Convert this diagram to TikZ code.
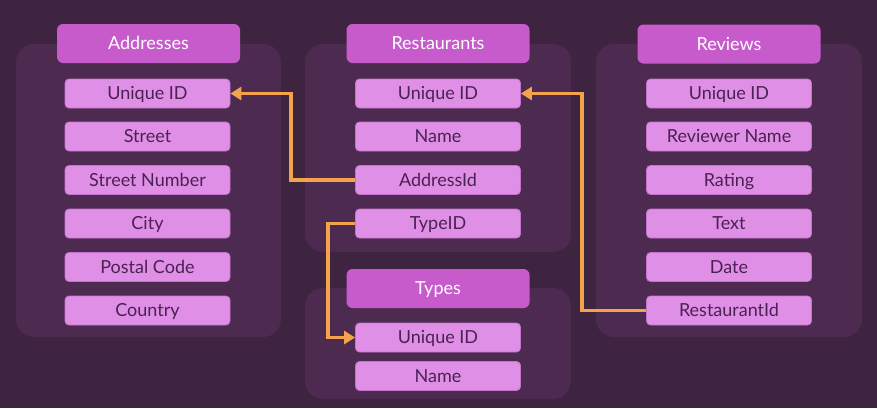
\documentclass[tikz,border=0pt]{standalone}
\usepackage{fontspec}
\setmainfont{Lato}
\usetikzlibrary{arrows.meta}
\definecolor{bgc}{HTML}{3E2440}
\definecolor{panelc}{HTML}{4D2A50}
\definecolor{headc}{HTML}{C75BCB}
\definecolor{fieldc}{HTML}{E08FE6}
\definecolor{fieldb}{HTML}{C672CC}
\definecolor{fieldt}{HTML}{4A2252}
\definecolor{linkc}{HTML}{F5A24C}
\tikzset{
  panel/.style={fill=panelc, rounded corners=18pt},
  header/.style={fill=headc, rounded corners=6pt, minimum width=183pt, minimum height=39pt, inner sep=0pt, text=white, text height=12.8pt, text depth=0pt, font=\fontsize{18}{20}\selectfont},
  field/.style={fill=fieldc, draw=fieldb, line width=0.8pt, rounded corners=4pt, minimum width=165pt, minimum height=29pt, inner sep=0pt, text=fieldt, text height=12.8pt, text depth=0pt, font=\fontsize{18}{20}\selectfont},
  link/.style={draw=linkc, line width=3.4pt, -{Triangle[length=11pt,width=13pt]}}
}
\begin{document}
\begin{tikzpicture}[x=1pt,y=-1pt]
\fill[bgc] (0,0) rectangle (877,408);
\useasboundingbox (0,0) rectangle (877,408);
% panels
\fill[panel] (16,44) rectangle (281,337);
\fill[panel] (305,44) rectangle (571,252);
\fill[panel] (305,288) rectangle (571,399);
\fill[panel] (596,44) rectangle (862,337);
% Addresses
\node[header] (ah) at (148.5,43.5) {Addresses};
\node[field] (auid) at (147.5,93.5) {Unique ID};
\node[field] (astreet) at (147.5,136.5) {Street};
\node[field] (anum) at (147.5,180) {Street Number};
\node[field] (acity) at (147.5,223.5) {City};
\node[field] (apost) at (147.5,267) {Postal Code};
\node[field] (acountry) at (147.5,310.5) {Country};
% Restaurants
\node[header] (rh) at (438,43.5) {Restaurants};
\node[field] (resuid) at (438,93.5) {Unique ID};
\node[field] (resname) at (438,136.5) {Name};
\node[field] (resaddr) at (438,180) {AddressId};
\node[field] (restype) at (438,223.5) {TypeID};
% Types
\node[header] (th) at (438,288.5) {Types};
\node[field] (tuid) at (438,337.5) {Unique ID};
\node[field] (tname) at (438,376) {Name};
% Reviews
\node[header] (vh) at (729,44) {Reviews};
\node[field] (vuid) at (729,93.5) {Unique ID};
\node[field] (vname) at (729,136.5) {Reviewer Name};
\node[field] (vrating) at (729,180) {Rating};
\node[field] (vtext) at (729,223.5) {Text};
\node[field] (vdate) at (729,267) {Date};
\node[field] (vrest) at (729,310.5) {RestaurantId};
% links
\draw[link] (resaddr.west) -- ([xshift=-64pt]resaddr.west) |- (auid.east);
\draw[link] (restype.west) -- ([xshift=-27pt]restype.west) |- (tuid.west);
\draw[link] (vrest.west) -- ([xshift=-64pt]vrest.west) |- (resuid.east);
\end{tikzpicture}
\end{document}
